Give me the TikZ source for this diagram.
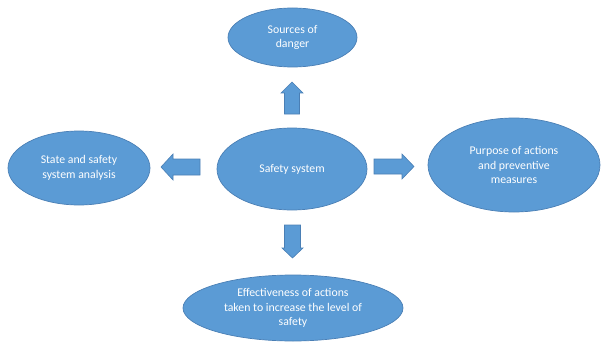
\documentclass[tikz,border=0pt]{standalone}
\usepackage{fontspec}
\setmainfont{Carlito}
\usetikzlibrary{shapes.geometric}
\definecolor{ofblue}{HTML}{5B9BD5}
\definecolor{ofedge}{HTML}{4A7FB5}
\tikzset{
  oval/.style={ellipse, fill=ofblue, draw=ofedge, line width=0.7pt, inner sep=0pt,
    text=white, align=center, font=\fontsize{11.8}{14.5}\selectfont},
  blockarrow/.style={fill=ofblue, draw=ofedge, line width=0.6pt, line join=miter}
}
\begin{document}
\begin{tikzpicture}[x=1pt,y=-1pt]
\useasboundingbox (0,0) rectangle (604,342);
\node[oval, minimum width=129pt, minimum height=59pt] (top) at (292.5,37.5) {Sources of\\danger};
\node[oval, minimum width=142pt, minimum height=74pt] (left) at (79,168) {State and safety\\system analysis};
\node[oval, minimum width=150pt, minimum height=82pt] (center) at (292,169) {Safety system};
\node[oval, minimum width=172pt, minimum height=94pt] (right) at (514,165) {Purpose of actions\\and preventive\\measures};
\node[oval, minimum width=220pt, minimum height=66pt] (bottom) at (293,308) {Effectiveness of actions\\taken to increase the level of\\safety};
% up arrow
\draw[blockarrow] (284.5,114) -- (284.5,93) -- (281,93) -- (292,82) -- (303,93) -- (299.5,93) -- (299.5,114) -- cycle;
% down arrow
\draw[blockarrow] (284.5,225) -- (284.5,248) -- (282,248) -- (292.5,258) -- (303,248) -- (300.5,248) -- (300.5,225) -- cycle;
% left arrow
\draw[blockarrow] (200,159) -- (173,159) -- (173,154) -- (161,167) -- (173,180) -- (173,175) -- (200,175) -- cycle;
% right arrow
\draw[blockarrow] (374,159) -- (402,159) -- (402,154) -- (414,166.5) -- (402,179) -- (402,174) -- (374,174) -- cycle;
\end{tikzpicture}
\end{document}
